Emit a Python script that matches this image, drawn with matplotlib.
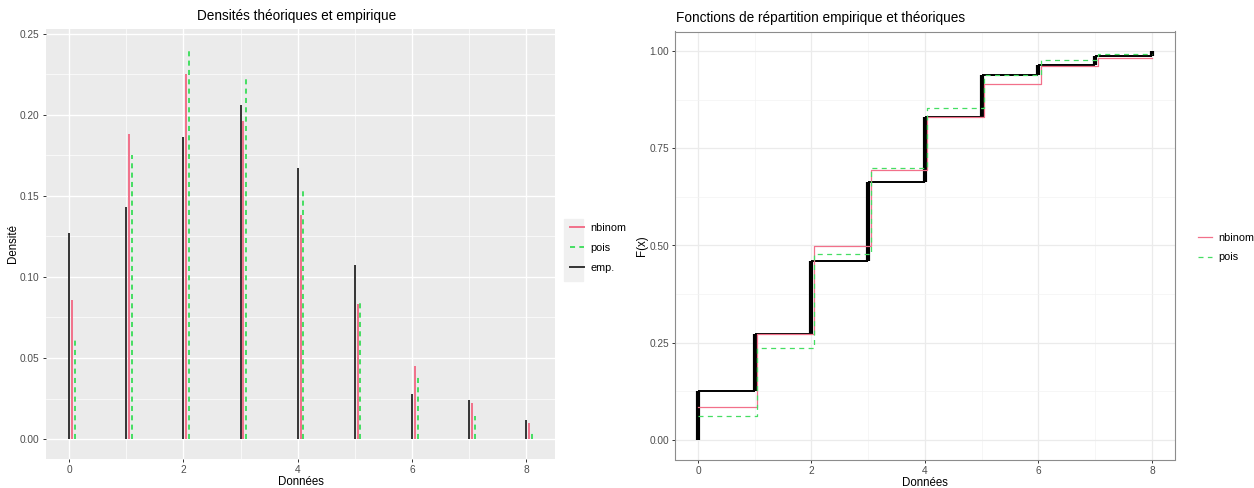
import numpy as np
import matplotlib.pyplot as plt
from matplotlib.lines import Line2D
from matplotlib.patches import Rectangle
from matplotlib.ticker import MultipleLocator, FormatStrFormatter

plt.rcParams['font.family'] = ['Liberation Sans', 'DejaVu Sans']

# observed values and fitted probabilities
counts = [0, 1, 2, 3, 4, 5, 6, 7, 8]
emp_dens = [0.127, 0.143, 0.186, 0.206, 0.167, 0.107, 0.028, 0.024, 0.012]
nbinom_dens = [0.086, 0.188, 0.225, 0.196, 0.138, 0.0835, 0.045, 0.022, 0.010]
pois_dens = [0.0627, 0.175, 0.241, 0.222, 0.153, 0.0844, 0.0393, 0.0143, 0.0035]

# cumulative distribution functions
emp_cdf = [0.1265, 0.272, 0.459, 0.664, 0.831, 0.938, 0.964, 0.988, 1.0]
nbinom_cdf = [0.0855, 0.273, 0.499, 0.694, 0.831, 0.916, 0.961, 0.983]
pois_cdf = [0.0624, 0.237, 0.478, 0.700, 0.853, 0.938, 0.978, 0.993]

RED = '#F2708A'
GREEN = '#45DE62'
DARK = '#333333'
W, H = 1254, 488

fig = plt.figure(figsize=(W / 100, H / 100), dpi=100)


def style_ticks(ax):
    ax.tick_params(axis='both', which='major', length=2.5, width=0.7, color=DARK,
                   labelcolor='#4D4D4D', labelsize=7.3, pad=2)
    ax.tick_params(axis='both', which='minor', length=0)


# ---- left: densities ----
ax1 = fig.add_axes([46 / W, 1 - 458.6 / H, 509 / W, 430 / H])
ax1.set_facecolor('#EBEBEB')
for s in ax1.spines.values():
    s.set_visible(False)
x = np.array(counts, dtype=float)
ax1.vlines(x, 0, emp_dens, color=DARK, lw=1.4, zorder=3)
ax1.vlines(x + 0.05, 0, nbinom_dens, color=RED, lw=1.4, zorder=3)
ax1.vlines(x + 0.1, 0, pois_dens, color=GREEN, lw=1.4, linestyles=(0, (2.6, 2.2)), zorder=3)
ax1.set_xlim(-0.405, 8.505)
ax1.set_ylim(-0.01205, 0.25305)
ax1.xaxis.set_major_locator(MultipleLocator(2))
ax1.xaxis.set_minor_locator(MultipleLocator(1))
ax1.yaxis.set_major_locator(MultipleLocator(0.05))
ax1.yaxis.set_minor_locator(MultipleLocator(0.025))
ax1.yaxis.set_major_formatter(FormatStrFormatter('%.2f'))
ax1.grid(which='major', color='white', lw=1.0, zorder=0)
ax1.grid(which='minor', color='white', lw=0.5, zorder=0)
ax1.set_axisbelow(True)
style_ticks(ax1)
ax1.set_xlabel('Données', fontsize=8.3, labelpad=1)
ax1.set_ylabel('Densité', fontsize=8.3, labelpad=1)
fig.text(297 / W, 1 - 16 / H, 'Densités théoriques et empirique', fontsize=9.8,
         ha='center', va='center')

fig.patches.append(Rectangle((564 / W, 1 - 281 / H), 19 / W, 62 / H,
                             transform=fig.transFigure, color='#F0F0F0', zorder=0))
h1 = [Line2D([], [], color=RED, lw=1.4),
      Line2D([], [], color=GREEN, lw=1.4, ls=(0, (2.6, 2.2))),
      Line2D([], [], color=DARK, lw=1.4)]
fig.legend(h1, ['nbinom', 'pois', 'emp.'], loc='center left',
           bbox_to_anchor=(560 / W, 1 - 248 / H), frameon=False, fontsize=7.8,
           handlelength=1.3, handletextpad=0.6, labelspacing=0.9)

# ---- right: cumulative distribution functions ----
ax2 = fig.add_axes([675.3 / W, 1 - 459.5 / H, 499.4 / W, 428 / H])
ax2.set_facecolor('white')
for s in ax2.spines.values():
    s.set_color('#8C8C8C')
    s.set_linewidth(0.8)

# empirical step function
ax2.hlines(emp_cdf[:-1], counts[:-1], counts[1:], color='black', lw=1.4, zorder=3)
ax2.vlines(counts, [0] + emp_cdf[:-1], emp_cdf, color='black', lw=3.0, zorder=3)

# theoretical step functions
jumps = [counts[0]] + [c + 0.04 for c in counts[1:-1]] + [counts[-1]]
ax2.step(jumps, nbinom_cdf + [nbinom_cdf[-1]], where='post', color=RED, lw=0.9, zorder=4)
ax2.step(jumps, pois_cdf + [pois_cdf[-1]], where='post', color=GREEN, lw=0.9,
         ls=(0, (4, 3.5)), zorder=4)

ax2.set_xlim(-0.4, 8.4)
ax2.set_ylim(-0.05, 1.05)
ax2.xaxis.set_major_locator(MultipleLocator(2))
ax2.xaxis.set_minor_locator(MultipleLocator(1))
ax2.yaxis.set_major_locator(MultipleLocator(0.25))
ax2.yaxis.set_minor_locator(MultipleLocator(0.125))
ax2.yaxis.set_major_formatter(FormatStrFormatter('%.2f'))
ax2.grid(which='major', color='#EBEBEB', lw=0.9, zorder=0)
ax2.grid(which='minor', color='#F3F3F3', lw=0.5, zorder=0)
ax2.set_axisbelow(True)
style_ticks(ax2)
ax2.set_xlabel('Données', fontsize=8.3, labelpad=1)
ax2.set_ylabel('F(x)', fontsize=8.3, labelpad=1)
fig.text(676 / W, 1 - 18 / H, 'Fonctions de répartition empirique et théoriques',
         fontsize=9.8, ha='left', va='center')

h2 = [Line2D([], [], color=RED, lw=0.9),
      Line2D([], [], color=GREEN, lw=0.9, ls=(0, (4, 3.5)))]
fig.legend(h2, ['nbinom', 'pois'], loc='center left',
           bbox_to_anchor=(1188 / W, 1 - 247.5 / H), frameon=False, fontsize=7.8,
           handlelength=1.3, handletextpad=0.6, labelspacing=0.9)

fig.savefig('out.png', dpi=100)
